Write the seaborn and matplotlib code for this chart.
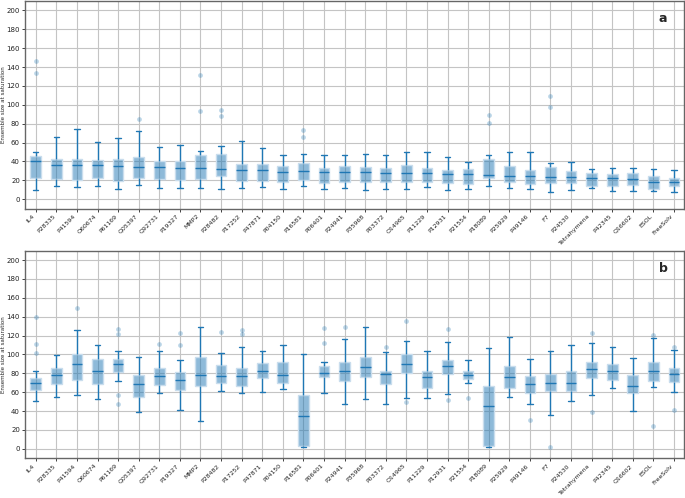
import numpy as np
import pandas as pd
import seaborn as sns
import matplotlib
matplotlib.use("Agg")
import matplotlib.pyplot as plt
from matplotlib.colors import to_rgb

proteins = ['IL4', 'P28335', 'P41594', 'O60674', 'P61169', 'Q05397', 'Q92731', 'P19327',
            'MMP2', 'P28482', 'P17252', 'P47871', 'P04150', 'P16581', 'P06401', 'P24941',
            'P35968', 'P03372', 'O14965', 'P11229', 'P12931', 'P21554', 'P18089', 'P25929',
            'P49146', 'F7', 'P24530', 'Tetrahymena', 'P42345', 'Q16602', 'ESOL', 'FreeSolv']

# panel a : five-number summaries
a_lo  = [10, 14, 13, 14, 11, 15, 12, 12, 12, 11, 12, 13, 11, 14, 11, 12,
         10, 11, 11, 13, 10, 11, 14, 12, 11, 8, 10, 12, 9, 8.5, 8.5, 7.5]
a_q1  = [23, 21, 20, 22, 19.5, 23, 21, 20, 21.5, 24.5, 19.5, 19.5, 18.7, 20.5, 17.6, 18,
         18.7, 18, 18.3, 18.7, 16.9, 16.6, 22, 18.7, 16, 17, 17, 14.5, 14.1, 14.8, 11.3, 14.1]
a_med = [40, 36, 36, 36, 35, 34.6, 34, 32.7, 32.8, 32.5, 30.7, 30.7, 29.3, 29.6, 28.6, 28.6,
         28.6, 27.9, 27.9, 27.9, 26.8, 26.5, 25.7, 24.7, 24.3, 23.6, 23.3, 22.2, 22.2, 21.5, 18.7, 18]
a_q3  = [46, 43, 42.3, 42, 43, 44.8, 40, 40, 47, 48.3, 37, 37.4, 35.3, 38.8, 32.8, 35.3,
         34.6, 33.2, 36, 33.2, 31.4, 31.5, 43, 35.3, 31, 34.6, 30, 27.9, 26.5, 27.5, 24.3, 22.2]
a_hi  = [50, 66, 74, 61, 65, 72, 55, 57, 51, 56, 62, 54, 47.3, 48.3, 47.3, 47.3,
         48.3, 47.3, 50, 50, 44.4, 39, 46.6, 50, 50, 38, 39, 32, 33.2, 33.2, 32, 31]
a_flier_cat = ['IL4', 'IL4', 'Q05397', 'MMP2', 'MMP2', 'P28482', 'P28482',
               'P16581', 'P16581', 'P18089', 'P18089', 'F7', 'F7']
a_flier_val = [146, 134, 85, 132, 93, 95, 88, 73, 66, 89, 81, 109, 98]

# panel b
b_lo  = [51, 55, 57, 53, 72, 39, 59, 41, 30, 61, 59, 60, 63, 2.5, 59, 47.4,
         53, 47.4, 54, 54, 58, 70, 2.5, 55, 47.4, 35.4, 50.2, 56.8, 64, 40, 65.3, 60]
b_q1  = [62.8, 69, 73.3, 68.4, 81, 54.7, 68, 62.8, 67, 69.8, 67, 75, 69.8, 2.8, 75.8, 72,
         75.8, 68.8, 80, 65, 79, 73.7, 2.8, 64, 59.6, 61.8, 61.8, 75, 73.3, 59, 72.3, 70.5]
b_med = [70.2, 78, 89.8, 82, 89.5, 69.1, 76.8, 73, 78, 76.8, 76.8, 82, 78, 34.7, 80.7, 82,
         86.3, 79.6, 89.8, 75.8, 88, 78, 45.6, 75.8, 68.4, 70.2, 69.5, 84.2, 82.5, 67, 83, 79.3]
b_q3  = [75.4, 85.3, 101, 95, 95, 78.2, 85.3, 81, 96.8, 88.4, 86, 90.5, 91.6, 56.8, 88, 91.9,
         96.8, 83, 100, 82.8, 94, 82.8, 67, 87.4, 77.2, 79, 83, 91.6, 89.5, 78.6, 91.6, 85.3]
b_hi  = [83, 99, 126, 110, 104, 97, 104, 94, 129, 102, 108, 104, 110, 100, 92, 116,
         129, 103, 114, 104, 113, 94, 107, 118, 95, 104, 110, 112, 108, 96, 117, 105]
b_flier_cat = ['IL4', 'IL4', 'IL4', 'P41594', 'P61169', 'P61169', 'P61169', 'P61169',
               'Q92731', 'P19327', 'P19327', 'P28482', 'P17252', 'P17252', 'P06401', 'P06401',
               'P24941', 'P03372', 'O14965', 'O14965', 'P12931', 'P12931', 'P21554',
               'P49146', 'F7', 'Tetrahymena', 'Tetrahymena', 'ESOL', 'ESOL',
               'FreeSolv', 'FreeSolv']
b_flier_val = [140, 111, 102, 149, 127, 122, 57, 48, 111, 123, 110, 124, 126, 122, 128, 112,
               129, 108, 135, 50, 127, 52, 54, 31, 2.5, 123, 39, 121, 24, 108, 41]

C0 = '#1f77b4'


def summary_frame(lo, q1, med, q3, hi):
    rows = []
    for i, p in enumerate(proteins):
        for v in (lo[i], q1[i], med[i], q3[i], hi[i]):
            rows.append((p, v))
    return pd.DataFrame(rows, columns=['protein', 'value'])


sns.set_style('whitegrid', {'grid.color': '#c4c4c4', 'axes.edgecolor': '#666666',
                            'xtick.bottom': True, 'ytick.left': True})

fig = plt.figure(figsize=(6.85, 4.98), dpi=100)
ax_a = fig.add_axes([0.0372, 0.581, 0.9618, 0.417])
ax_b = fig.add_axes([0.0372, 0.0797, 0.9618, 0.417])

panels = [
    (ax_a, summary_frame(a_lo, a_q1, a_med, a_q3, a_hi), a_flier_cat, a_flier_val, 'a'),
    (ax_b, summary_frame(b_lo, b_q1, b_med, b_q3, b_hi), b_flier_cat, b_flier_val, 'b'),
]

for ax, df, fcat, fval, letter in panels:
    sns.boxplot(data=df, x='protein', y='value', order=proteins, whis=(0, 100),
                width=0.52, color=C0, linecolor=C0, linewidth=1, saturation=1,
                showfliers=False, ax=ax)
    for patch in ax.patches:
        patch.set_facecolor((*to_rgb(C0), 0.5))
        patch.set_edgecolor('#c9dded')
    fl = pd.DataFrame({'protein': fcat, 'value': fval})
    sns.stripplot(data=fl, x='protein', y='value', order=proteins, jitter=False,
                  color=C0, alpha=0.3, size=3.4, linewidth=0, ax=ax)

    ax.set_xlim(-0.5, len(proteins) - 0.5)
    ax.set_ylim(-10, 210)
    ax.set_yticks(np.arange(0, 201, 20))
    ax.xaxis.grid(True)
    ax.yaxis.grid(True)
    ax.set_axisbelow(True)
    for s in ax.spines.values():
        s.set_linewidth(1)
    ax.tick_params(axis='y', labelsize=5, length=2.5, width=0.6, pad=1.5, colors='#222222')
    ax.tick_params(axis='x', labelsize=4.5, length=2.5, width=0.6, pad=1, colors='#222222')
    ax.set_xticks(range(len(proteins)))
    ax.set_xticklabels(proteins, rotation=45, ha='right')
    ax.set_xlabel('')
    ax.set_ylabel('Ensemble size at saturation', fontsize=4)
    ax.yaxis.set_label_coords(-0.03, 0.5)
    ax.text(0.968, 0.915, letter, transform=ax.transAxes, fontsize=9,
            fontweight='bold', ha='center', va='center')

fig.savefig('out.png', dpi=100)
